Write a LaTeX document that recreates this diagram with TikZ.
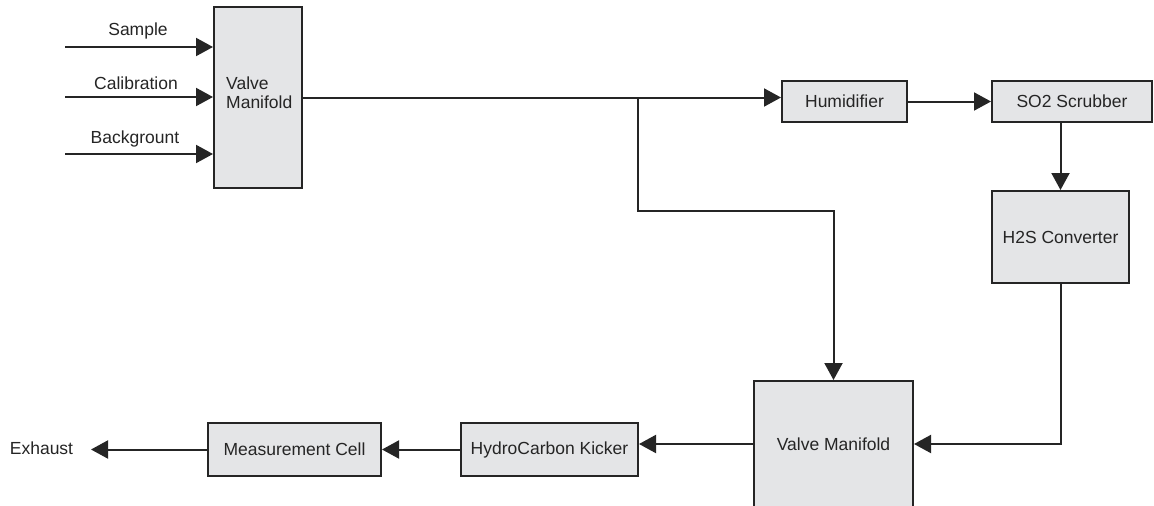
\documentclass[tikz,border=0pt]{standalone}
\usepackage{fontspec}
\setmainfont{Liberation Sans}
\usetikzlibrary{arrows.meta}
\definecolor{boxfill}{HTML}{E4E5E7}
\definecolor{ink}{HTML}{252525}
\begin{document}
\begin{tikzpicture}[x=1pt,y=-1pt,
  box/.style={draw=ink, fill=boxfill, line width=2pt, rectangle, inner sep=0pt, text=ink},
  conn/.style={draw=ink, line width=2pt},
  arr/.style={conn, -{Triangle[length=17pt,width=18pt]}},
  lbl/.style={text=ink, inner sep=0pt},
  font=\fontsize{17.5}{19}\selectfont]
\clip (0,0) rectangle (1154,506);
\fill[white] (0,0) rectangle (1154,506);

% boxes
\node[box, minimum width=88pt, minimum height=181pt] (vm1) at (258,97.5) {};
\node[lbl, anchor=north west, align=left] (vm1t) at (226,76.3) {Valve\\Manifold};
\node[box, minimum width=125pt, minimum height=41pt] (hum) at (844.5,101.5) {Humidifier};
\node[box, minimum width=160pt, minimum height=41pt] (so2) at (1072,101.5) {SO2 Scrubber};
\node[box, minimum width=137pt, minimum height=92pt] (h2s) at (1060.5,237) {H2S Converter};
\node[box, minimum width=159pt, minimum height=126pt] (vm2) at (833.5,444) {Valve Manifold};
\node[box, minimum width=177pt, minimum height=53pt] (kick) at (549.5,449.5) {HydroCarbon Kicker};
\node[box, minimum width=173pt, minimum height=53pt] (mc) at (294.5,449.5) {Measurement Cell};
\node[lbl] (exh) at (41.5,448) {Exhaust};

% inputs
\coordinate (in1) at (65,47);
\coordinate (in2) at (65,97);
\coordinate (in3) at (65,154);
\draw[arr] (in1) -- (in1 -| vm1.west);
\draw[arr] (in2) -- (in2 -| vm1.west);
\draw[arr] (in3) -- (in3 -| vm1.west);
\node[lbl, anchor=base] (ls) at (138,35) {Sample};
\node[lbl, anchor=base] (lc) at (136,89) {Calibration};
\node[lbl, anchor=base] (lb) at (135,143) {Backgrount};

% main flow
\coordinate (br) at (638,97.5);
\coordinate (bend) at (638,211);
\draw[arr] (vm1.east) -- (vm1.east -| hum.west);
\draw[arr] (br) -- (bend) -| (vm2.north);
\draw[arr] (hum.east) -- (so2.west);
\draw[arr] (so2.south -| h2s.north) -- (h2s.north);
\draw[arr] (h2s.south) |- (vm2.east);
\draw[arr] (vm2.west) -- (vm2.west -| kick.east);
\draw[arr] (kick.west) -- (mc.east);
\coordinate (exhtip) at (91,449.5);
\draw[arr] (mc.west) -- (exhtip);
\end{tikzpicture}
\end{document}
